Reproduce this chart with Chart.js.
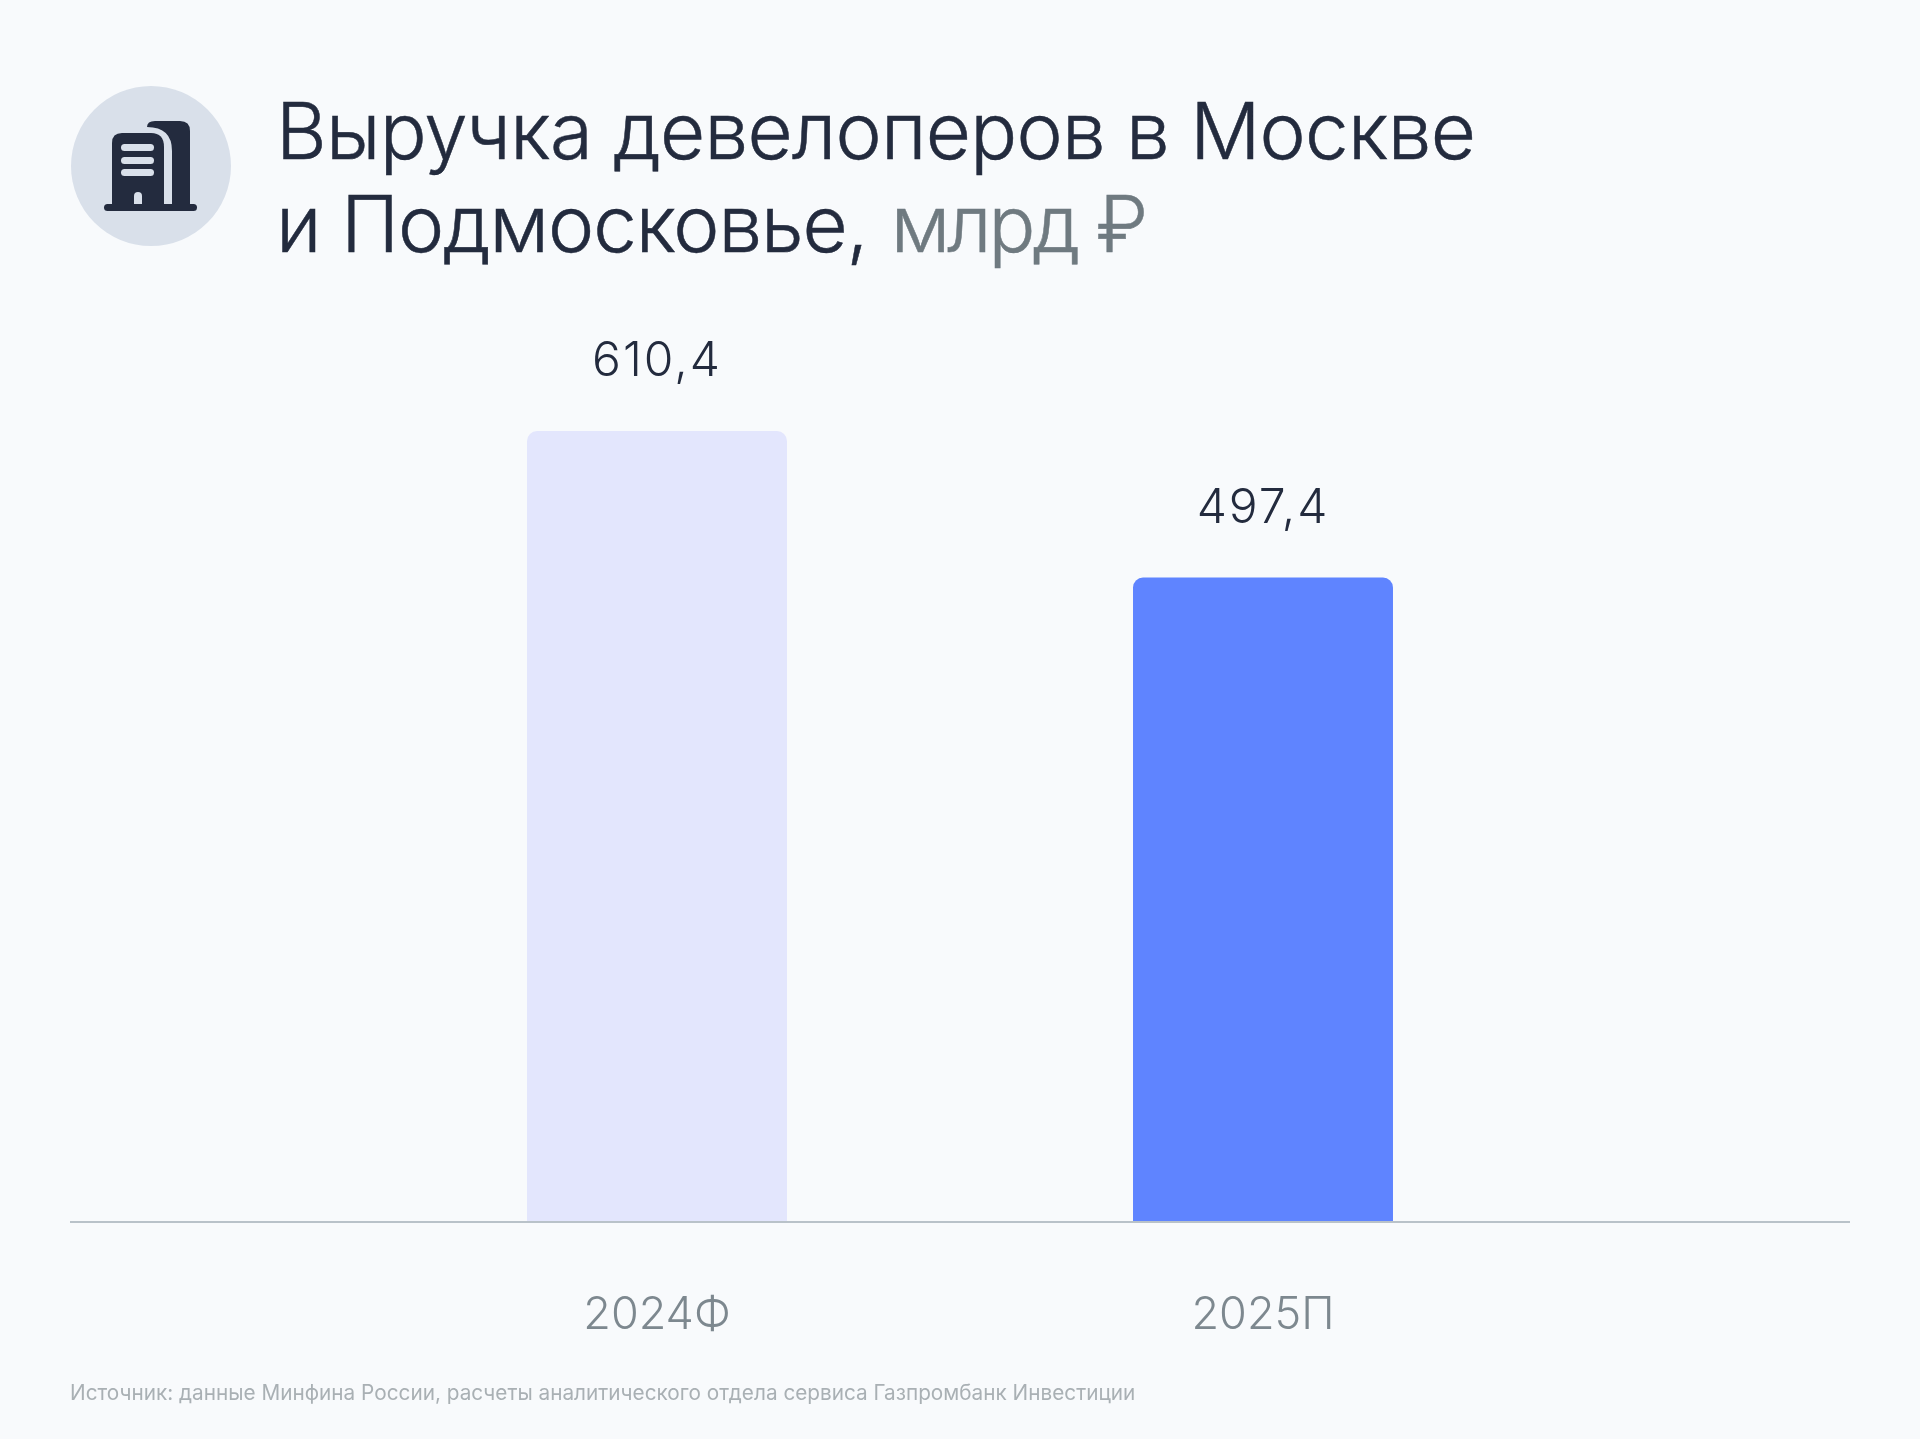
<!DOCTYPE html>
<html lang="ru">
<head>
<meta charset="utf-8">
<title>Выручка девелоперов</title>
<script src="https://cdn.jsdelivr.net/npm/chart.js@4"></script>
<style>
  html, body { margin: 0; padding: 0; background: #f8fafc; }
  body { position: relative; width: 1920px; height: 1439px; overflow: hidden; font-family: Inter, "Noto Sans", sans-serif; }
  #revenue { position: absolute; left: 0; top: 0; }
  .icon { position: absolute; left: 0; top: 0; }
  h1 { position: absolute; left: 276px; top: 84px; margin: 0; font-size: 78px; line-height: 93px; font-weight: 300; color: #232b3e; white-space: nowrap; letter-spacing: -0.75px; -webkit-text-stroke: 0.5px currentColor; }
  h1 .second { letter-spacing: -1.1px; }
  h1 .unit { color: #6f7a80; letter-spacing: -3px; margin-left: 2px; }
  .source { position: absolute; left: 70px; top: 1381px; font-size: 20.75px; line-height: 24px; color: #a9b0b4; white-space: nowrap; }
</style>
</head>
<body>
<canvas id="revenue" width="1920" height="1439"></canvas>
<svg class="icon" width="300" height="300" viewBox="0 0 300 300">
  <circle cx="151" cy="166" r="80" fill="#d9e0ea"/>
  <path fill="#232b3e" d="M147 127q0-6 8-6h25q10 0 10 10v73h-18v-53q0-24-25-24z"/>
  <path fill="#232b3e" d="M112 143q0-10 10-10h29q13 0 13 14v57h-52z"/>
  <rect x="104" y="204" width="93" height="7" rx="3.5" fill="#232b3e"/>
  <rect x="121" y="144" width="33" height="7" rx="3.5" fill="#d9e0ea"/>
  <rect x="121" y="157" width="33" height="7" rx="3.5" fill="#d9e0ea"/>
  <rect x="121" y="169" width="33" height="7" rx="3.5" fill="#d9e0ea"/>
  <path fill="#d9e0ea" d="M134 204v-8q0-4 4-4t4 4v8z"/>
</svg>
<h1>Выручка девелоперов в Москве<br><span class="second">и Подмосковье,</span> <span class="unit">млрд ₽</span></h1>
<div class="source">Источник: данные Минфина России, расчеты аналитического отдела сервиса Газпромбанк Инвестиции</div>
<script>
const categories = ['2024Ф', '2025П'];
const revenue = [610.4, 497.4];
const barColors = ['#e3e6fd', '#5f84ff'];

const FONT = 'Inter, "Noto Sans", sans-serif';

// value labels above the bars + baseline running past the plot area
const decorations = {
  id: 'decorations',
  afterDatasetsDraw(chart) {
    const { ctx, scales } = chart;
    const y0 = scales.y.getPixelForValue(0);
    ctx.save();
    ctx.strokeStyle = '#b9c2c9';
    ctx.lineWidth = 2;
    ctx.beginPath();
    ctx.moveTo(70, y0);
    ctx.lineTo(1850, y0);
    ctx.stroke();

    ctx.font = '300 48px ' + FONT;
    ctx.letterSpacing = '2px';
    ctx.fillStyle = '#232b3e';
    ctx.textAlign = 'center';
    ctx.textBaseline = 'alphabetic';
    chart.getDatasetMeta(0).data.forEach((bar, i) => {
      ctx.fillText(revenue[i].toLocaleString('ru-RU'), bar.x, bar.y - 55);
    });
    ctx.restore();
  },
};

new Chart(document.getElementById('revenue'), {
  type: 'bar',
  data: {
    labels: categories,
    datasets: [{
      data: revenue,
      backgroundColor: barColors,
      borderWidth: 0,
      borderRadius: { topLeft: 10, topRight: 10, bottomLeft: 0, bottomRight: 0 },
      borderSkipped: false,
      barPercentage: 0.429,
      categoryPercentage: 1,
    }],
  },
  options: {
    responsive: false,
    animation: false,
    devicePixelRatio: 1,
    layout: { padding: { left: 354, right: 354, top: 315, bottom: 0 } },
    plugins: { legend: { display: false }, tooltip: { enabled: false } },
    scales: {
      x: {
        grid: { display: false },
        border: { display: false },
        ticks: { color: '#7d888f', font: { family: FONT, size: 45, weight: '300' }, padding: 58, maxRotation: 0 },
        afterFit(scale) { scale.height = 217; },
      },
      y: { display: false, min: 0, max: 700 },
    },
  },
  plugins: [decorations],
});
</script>
</body>
</html>
